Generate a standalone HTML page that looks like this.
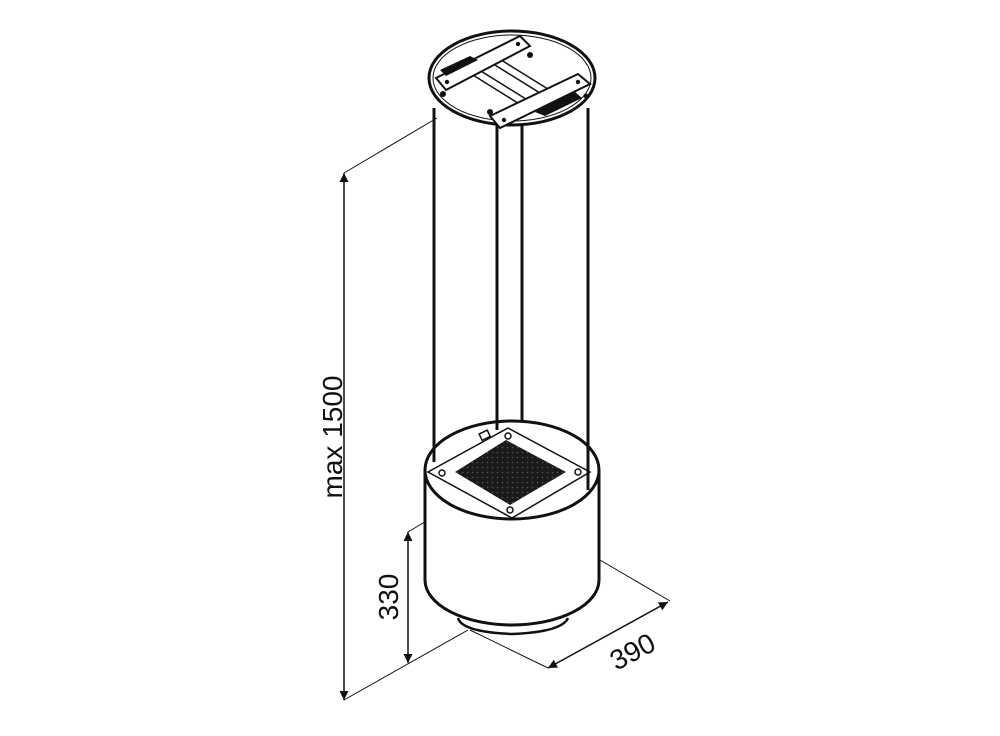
<!DOCTYPE html>
<html><head><meta charset="utf-8"><style>html,body{margin:0;padding:0;background:#fff}svg{display:block}</style></head>
<body>
<svg width="1000" height="736" viewBox="0 0 1000 736" xmlns="http://www.w3.org/2000/svg" font-family="Liberation Sans, sans-serif">
<defs>
<marker id="a" viewBox="0 0 10 10" refX="10" refY="5" markerWidth="13" markerHeight="9" markerUnits="userSpaceOnUse" orient="auto"><path d="M0,0 L10,5 L0,10 z" fill="#111"/></marker>
<marker id="b" viewBox="0 0 10 10" refX="0" refY="5" markerWidth="13" markerHeight="9" markerUnits="userSpaceOnUse" orient="auto"><path d="M10,0 L0,5 L10,10 z" fill="#111"/></marker>
<pattern id="dots" width="5" height="5" patternUnits="userSpaceOnUse"><rect width="5" height="5" fill="#1a1a1a"/><circle cx="2.5" cy="2.5" r="0.8" fill="#555"/></pattern>
</defs>
<g stroke="#111" fill="none">
<!-- dimension lines -->
<line x1="344" y1="173" x2="437" y2="118" stroke-width="1"/>
<line x1="344" y1="700" x2="468" y2="630" stroke-width="1"/>
<line x1="344" y1="173" x2="344" y2="700" stroke-width="1.5" marker-start="url(#b)" marker-end="url(#a)"/>
<line x1="408" y1="532" x2="468" y2="496" stroke-width="1"/>
<line x1="408" y1="532" x2="408" y2="663" stroke-width="1.5" marker-start="url(#b)" marker-end="url(#a)"/>
<line x1="600" y1="560" x2="670" y2="601" stroke-width="1"/>
<line x1="470" y1="630" x2="548" y2="668" stroke-width="1"/>
<line x1="548" y1="668" x2="668" y2="602" stroke-width="1.5" marker-start="url(#b)" marker-end="url(#a)"/>
<!-- rods -->
<g stroke-width="3">
<line x1="434" y1="108" x2="434" y2="462"/>
<line x1="497" y1="125" x2="497" y2="430"/>
<line x1="522" y1="125" x2="522" y2="510"/>
<line x1="588" y1="108" x2="588" y2="490"/>
</g>
<!-- top disc -->
<path d="M429,78 L431,88 A83,47 0 0 0 593,88 L595,78" stroke-width="2.5" fill="#fff"/>
<ellipse cx="512" cy="78" rx="83" ry="47" fill="#fff" stroke-width="3"/>
<ellipse cx="512" cy="78" rx="79" ry="43" stroke-width="1"/>
<!-- cross bars -->
<g stroke-width="1.5" fill="#fff">
<polygon points="468,72 476,68 534,104 526,108"/>
<polygon points="490,62 498,58 556,94 548,98"/>
</g>
<!-- brackets -->
<g stroke-width="2" fill="#fff">
<polygon points="436,78 520,36 530,46 446,90"/>
<polygon points="490,116 578,74 590,84 500,128"/>
</g>
<g fill="#111" stroke="none">
<polygon points="440,70 470,56 478,60 446,76"/>
<polygon points="535,112 575,92 582,98 545,116"/>
<circle cx="447" cy="82" r="2.2"/><circle cx="518" cy="44" r="2.2"/><circle cx="504" cy="120" r="2.2"/><circle cx="578" cy="82" r="2.2"/>
<circle cx="443" cy="94" r="3"/><circle cx="530" cy="55" r="3"/><circle cx="490" cy="112" r="3"/><circle cx="586" cy="96" r="2.5"/>
</g>
<!-- body -->
<path d="M458,618 Q462,632 512,634 Q562,632 568,618" fill="#fff" stroke-width="2.5"/>
<path d="M425,470 L425,580 A87,45 0 0 0 599,580 L599,470" fill="#fff" stroke-width="3"/>
<ellipse cx="512" cy="470" rx="87" ry="49" fill="#fff" stroke-width="3"/>
<polygon points="508,428 590,472 512,518 428,472" stroke-width="1.5" fill="#fff"/>
<polygon points="506,440 566,472 510,505 455,472" fill="url(#dots)" stroke="none"/>
<rect x="480" y="432" width="9" height="7" transform="rotate(-25 484 435)" stroke-width="1.5"/>
<g stroke-width="3">
<line x1="434" y1="440" x2="434" y2="462"/>
<line x1="497" y1="420" x2="497" y2="430"/>
<line x1="588" y1="440" x2="588" y2="490"/>
</g>
<g fill="#fff" stroke-width="1.5"><circle cx="442" cy="473" r="3"/><circle cx="510" cy="510" r="3"/><circle cx="578" cy="472" r="3"/><circle cx="508" cy="436" r="3"/></g>
</g>
<g fill="#111" font-size="28">
<text transform="translate(342,437) rotate(-90)" text-anchor="middle">max 1500</text>
<text transform="translate(398,597) rotate(-90)" text-anchor="middle">330</text>
<text transform="translate(637,660) rotate(-28)" text-anchor="middle">390</text>
</g>
</svg>
</body></html>
